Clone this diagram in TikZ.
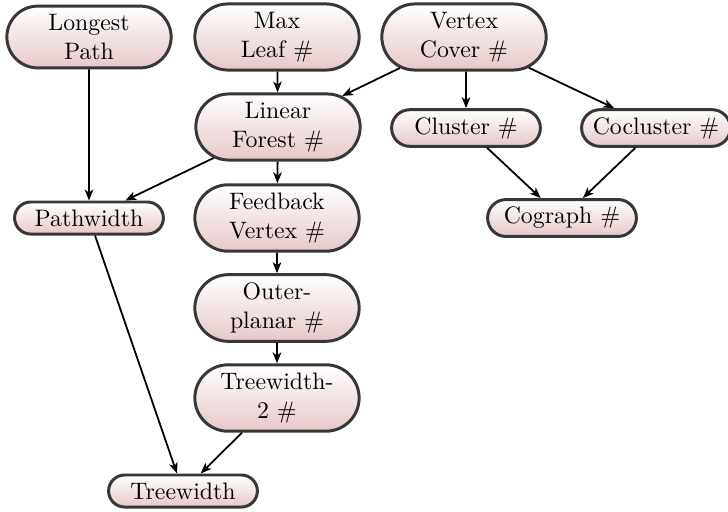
\documentclass[tikz,border=0pt]{standalone}
\usetikzlibrary{shapes.misc,arrows.meta}
\definecolor{boxline}{RGB}{55,55,55}
\definecolor{boxfoot}{RGB}{230,200,201}
\begin{document}
\begin{tikzpicture}[x=0.42pt,y=-0.42pt,
  box/.style={rounded rectangle, draw=boxline, line width=1.25pt,
    top color=white, bottom color=boxfoot, align=center,
    inner xsep=2pt, inner ysep=3.2pt, minimum width=66.5pt, minimum height=0pt},
  tallbox/.style={box, inner ysep=3.5pt, minimum width=73pt},
  link/.style={-{Stealth[length=4.6pt,width=3.6pt,inset=1.3pt]}, line width=0.75pt}]
\useasboundingbox (0,0) rectangle (728,511);
\node[tallbox] (lp) at (89,37) {Longest\\Path};
\node[tallbox] (ml) at (277,37) {Max\\Leaf \#};
\node[tallbox] (vc) at (464,37) {Vertex\\Cover \#};
\node[tallbox] (lf) at (278,127) {Linear\\Forest \#};
\node[box] (cl) at (466,128) {Cluster \#};
\node[box] (cc) at (656,128) {Cocluster \#};
\node[box] (pw) at (89,218) {Pathwidth};
\node[tallbox] (fv) at (277,218) {Feedback\\Vertex \#};
\node[box] (cg) at (562,218) {Cograph \#};
\node[tallbox] (op) at (277,308) {Outer-\\planar \#};
\node[tallbox] (t2) at (277,398) {Treewidth-\\2 \#};
\node[box] (tw) at (183,491) {Treewidth};
\draw[link] (lp) -- (pw);
\draw[link] (ml) -- (lf);
\draw[link] (vc) -- (lf);
\draw[link] (vc.south -| cl) -- (cl);
\draw[link] (vc) -- (cc);
\draw[link] (lf) -- (pw);
\draw[link] (lf) -- (fv);
\draw[link] (fv) -- (op);
\draw[link] (op) -- (t2);
\draw[link] (pw) -- (tw);
\draw[link] (t2) -- (tw);
\draw[link] (cl) -- (cg);
\draw[link] (cc) -- (cg);
\end{tikzpicture}
\end{document}
